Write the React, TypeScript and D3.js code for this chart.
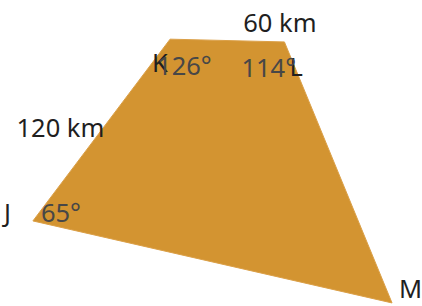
import React from 'react';
import * as d3 from 'd3';

// vertices of the quadrilateral, in percent of the drawing area
const vertexNames = ['J', 'K', 'L', 'M'];
const vertexX = [7.8, 40.3, 67.4, 92.9];
const vertexY = [72.2, 12.8, 13.7, 99.0];
const angleLabels = ['65°', '126°', '114°', ''];
const sideLabels = ['120 km', '60 km'];

const W = 422;
const H = 306;

export default function App() {
  const x = d3.scaleLinear().domain([0, 100]).range([0, W]);
  const y = d3.scaleLinear().domain([0, 100]).range([0, H]);

  const pts: [number, number][] = vertexX.map((v, i) => [x(v), y(vertexY[i])]);
  const path = d3.line().curve(d3.curveLinearClosed)(pts) || '';

  const [J, K, L, M] = pts;
  const font = '"Noto Sans", "Open Sans", sans-serif';

  return (
    <div style={{ position: 'absolute', left: 0, top: 0 }}>
      <svg width={W} height={H} style={{ display: 'block' }}>
        <path d={path} fill="#d39431" stroke="#dba048" strokeWidth={1} />
        <g fontFamily={font} fontSize={25.5} fill="#1f1f1f">
          <text x={J[0] - 29} y={J[1] + 1}>{vertexNames[0]}</text>
          <text x={K[0] - 18} y={K[1] + 33}>{vertexNames[1]}</text>
          <text x={L[0] + 5} y={L[1] + 34}>{vertexNames[2]}</text>
          <text x={M[0] + 7} y={M[1] - 5}>{vertexNames[3]}</text>
          <text x={(J[0] + K[0]) / 2 - 85} y={(J[1] + K[1]) / 2 + 7}>{sideLabels[0]}</text>
          <text x={(K[0] + L[0]) / 2 + 16} y={K[1] - 7}>{sideLabels[1]}</text>
        </g>
        <g fontFamily={font} fontSize={25.5} fill="#474747">
          <text x={J[0] + 8} y={J[1] + 1}>{angleLabels[0]}</text>
          <text x={K[0] - 13} y={K[1] + 36}>{angleLabels[1]}</text>
          <text x={L[0] - 43} y={L[1] + 35}>{angleLabels[2]}</text>
        </g>
      </svg>
    </div>
  );
}
